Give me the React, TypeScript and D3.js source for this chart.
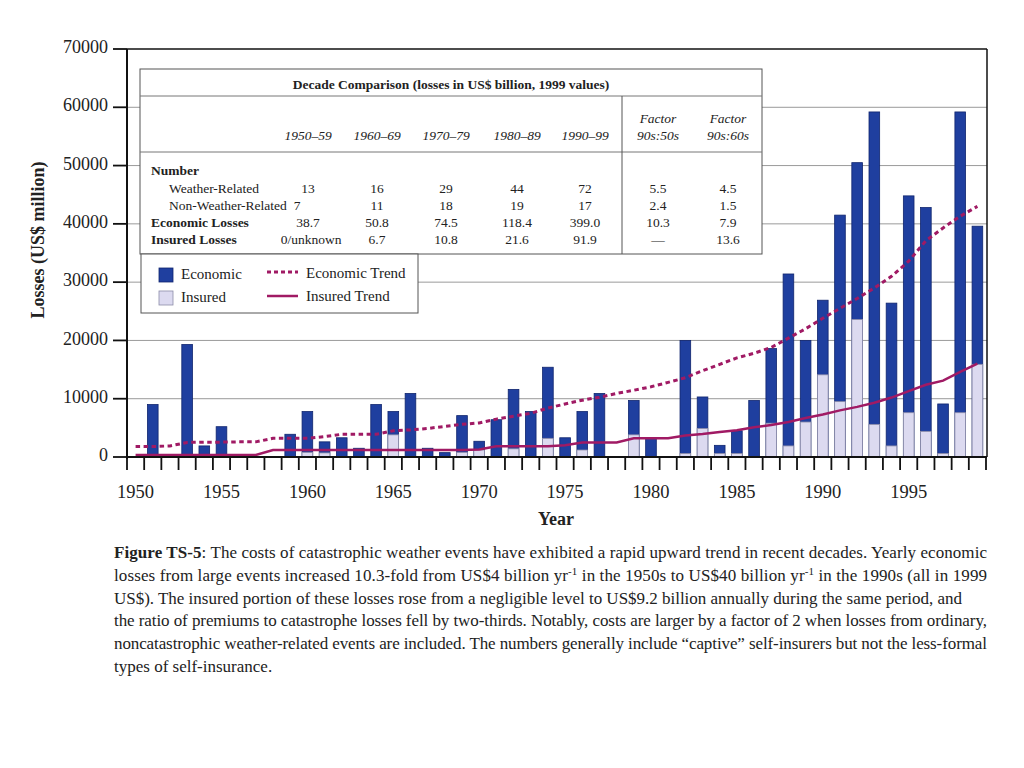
import React from 'react';
import * as d3 from 'd3';

// yearly catastrophe losses, US$ million (1999 values)
const years = [
  1950, 1951, 1952, 1953, 1954, 1955, 1956, 1957, 1958, 1959,
  1960, 1961, 1962, 1963, 1964, 1965, 1966, 1967, 1968, 1969,
  1970, 1971, 1972, 1973, 1974, 1975, 1976, 1977, 1978, 1979,
  1980, 1981, 1982, 1983, 1984, 1985, 1986, 1987, 1988, 1989,
  1990, 1991, 1992, 1993, 1994, 1995, 1996, 1997, 1998, 1999,
];
const economic = [
  0, 9000, 0, 19300, 1900, 5200, 0, 0, 0, 3900,
  7800, 2600, 3300, 1500, 9000, 7800, 10900, 1500, 750, 7100,
  2700, 6400, 11600, 7800, 15400, 3300, 7800, 10900, 0, 9700,
  3200, 0, 20000, 10300, 2000, 4500, 9700, 18600, 31400, 20000,
  26900, 41500, 50500, 59200, 26400, 44800, 42800, 9100, 59200, 39600,
];
const insured = [
  0, 0, 0, 0, 0, 0, 0, 0, 0, 0,
  800, 700, 0, 0, 0, 3800, 0, 0, 0, 800,
  1200, 0, 1400, 0, 3200, 0, 1200, 0, 0, 3800,
  0, 0, 600, 4900, 600, 600, 0, 5800, 1900, 6000,
  14100, 9500, 23600, 5600, 1900, 7600, 4400, 600, 7600, 15900,
];
const economicTrend = [
  1800, 1800, 1900, 2500, 2550, 2550, 2600, 2600, 3200, 3200,
  3200, 3500, 3900, 3900, 3900, 4500, 4650, 4900, 5250, 5600,
  5850, 6500, 7000, 7500, 8400, 9100, 9750, 10250, 10900, 11450,
  12050, 12800, 13600, 14800, 15900, 17000, 17800, 18800, 20400, 22000,
  23800, 25500, 27200, 29000, 31000, 33600, 37100, 39300, 41300, 43000,
];
const insuredTrend = [
  350, 350, 350, 350, 350, 350, 350, 350, 1200, 1200,
  1200, 1200, 1200, 1200, 1200, 1200, 1200, 1200, 1200, 1200,
  1300, 1850, 1850, 1850, 1850, 2000, 2500, 2500, 2500, 3200,
  3200, 3200, 3700, 3950, 4300, 4600, 5100, 5500, 6000, 6700,
  7300, 8000, 8600, 9300, 10200, 11300, 12400, 13100, 14600, 16000,
];
const yTicks = [0, 10000, 20000, 30000, 40000, 50000, 60000, 70000];
const yearLabels = [1950, 1955, 1960, 1965, 1970, 1975, 1980, 1985, 1990, 1995];

// decade comparison table
const tableTitle = 'Decade Comparison (losses in US$ billion, 1999 values)';
const decadeCols = ['1950–59', '1960–69', '1970–79', '1980–89', '1990–99'];
const factorCols = ['90s:50s', '90s:60s'];
const weatherRelated = ['13', '16', '29', '44', '72', '5.5', '4.5'];
const nonWeatherRelated = ['7', '11', '18', '19', '17', '2.4', '1.5'];
const economicLosses = ['38.7', '50.8', '74.5', '118.4', '399.0', '10.3', '7.9'];
const insuredLosses = ['0/unknown', '6.7', '10.8', '21.6', '91.9', '—', '13.6'];

const captionLines = [
  'The costs of catastrophic weather events have exhibited a rapid upward trend in recent decades. Yearly economic',
  'losses from large events increased 10.3-fold from US$4 billion yr|-1| in the 1950s to US$40 billion yr|-1| in the 1990s (all in 1999',
  'US$). The insured portion of these losses rose from a negligible level to US$9.2 billion annually during the same period, and',
  'the ratio of premiums to catastrophe losses fell by two-thirds. Notably, costs are larger by a factor of 2 when losses from ordinary,',
  'noncatastrophic weather-related events are included. The numbers generally include “captive” self-insurers but not the less-formal',
  'types of self-insurance.',
];

const serif = '"Liberation Serif", "Times New Roman", serif';
const blue = '#1f3f9f';
const lavender = '#dcdaf0';
const trendColor = '#a01a64';

const L = 127, R = 987, T = 49, B = 457;

const App: React.FC = () => {
  const x = d3.scaleBand<number>().domain(years).range([L, 986]).padding(0);
  const y = d3.scaleLinear().domain([0, 70000]).range([B, T]);
  const bw = x.bandwidth() * 0.62;
  const cx = (yr: number) => (x(yr) as number) + x.bandwidth() / 2;

  const line = d3.line<number>()
    .x((_, i) => cx(years[i]))
    .y(d => y(d));

  const tickXs = years.map(yr => x(yr) as number).concat([986]);
  const colX = [308, 377, 446, 517, 585, 658, 728];
  const rows = [
    { label: 'Weather-Related', vals: weatherRelated, bold: false, y: 188 },
    { label: 'Non-Weather-Related', vals: nonWeatherRelated, bold: false, y: 205 },
    { label: 'Economic Losses', vals: economicLosses, bold: true, y: 222 },
    { label: 'Insured Losses', vals: insuredLosses, bold: true, y: 239 },
  ];
  const capLens = [873, 873, 848, 873, 873, 0];

  const renderCaption = (s: string) => {
    const parts = s.split('|');
    return parts.map((p, k) =>
      k % 2 === 1 ? (
        <tspan key={k} dy={-6} fontSize={11}>{p}</tspan>
      ) : (
        <tspan key={k} dy={k > 0 ? 6 : 0}>{p}</tspan>
      )
    );
  };

  return (
    <svg width={1024} height={768} fontFamily={serif}
      style={{ position: 'absolute', left: 0, top: 0, background: '#fff' }}>
      {/* gridlines */}
      {yTicks.filter(t => t > 0 && t < 70000).map(t => (
        <line key={t} x1={L} x2={R} y1={y(t)} y2={y(t)} stroke="#9a9a9a" strokeWidth={1} />
      ))}

      {/* bars */}
      {years.map((yr, i) => economic[i] > 0 && (
        <g key={yr}>
          <rect x={cx(yr) - bw / 2} y={y(economic[i])} width={bw} height={B - y(economic[i])}
            fill={blue} stroke="#10256e" strokeWidth={0.8} />
          {insured[i] > 0 && (
            <rect x={cx(yr) - bw / 2} y={y(insured[i])} width={bw} height={B - y(insured[i])}
              fill={lavender} stroke="#8c8ca8" strokeWidth={0.8} />
          )}
        </g>
      ))}

      {/* trends */}
      <path d={line(economicTrend) || ''} fill="none" stroke={trendColor} strokeWidth={3}
        strokeDasharray="4.5 3.5" />
      <path d={line(insuredTrend) || ''} fill="none" stroke={trendColor} strokeWidth={2.5} />

      {/* frame and axes */}
      <line x1={L} x2={R} y1={T} y2={T} stroke="#111" strokeWidth={1.5} />
      <line x1={R} x2={R} y1={T} y2={B} stroke="#111" strokeWidth={1.5} />
      <line x1={L} x2={L} y1={T} y2={B + 2} stroke="#111" strokeWidth={2} />
      <line x1={L} x2={R} y1={B} y2={B} stroke="#111" strokeWidth={2} />
      {yTicks.map(t => (
        <g key={t}>
          <line x1={113} x2={L} y1={y(t)} y2={y(t)} stroke="#111" strokeWidth={1.8} />
          <text x={108} y={y(t)} textAnchor="end" dominantBaseline="middle" fontSize={18} fill="#222">{t}</text>
        </g>
      ))}
      {tickXs.map((tx, i) => (
        <line key={i} x1={tx} x2={tx} y1={B} y2={B + 13} stroke="#111" strokeWidth={1.8} />
      ))}
      {yearLabels.map(yr => (
        <text key={yr} x={cx(yr)} y={498} textAnchor="middle" fontSize={18.5} fill="#222">{yr}</text>
      ))}
      <text x={556} y={525} textAnchor="middle" fontSize={18} fontWeight="bold" fill="#222">Year</text>
      <text transform="translate(40,240) rotate(-90)" textAnchor="middle" dominantBaseline="middle"
        fontSize={18} fontWeight="bold" fill="#222">Losses (US$ million)</text>

      {/* decade comparison table */}
      <g fontSize={13.5} fill="#222">
        <rect x={140} y={69} width={622} height={185} fill="#fff" stroke="#555" strokeWidth={1} />
        <line x1={140} x2={762} y1={96} y2={96} stroke="#777" strokeWidth={1} />
        <line x1={140} x2={762} y1={152} y2={152} stroke="#777" strokeWidth={1} />
        <line x1={622} x2={622} y1={96} y2={254} stroke="#555" strokeWidth={1} />
        <text x={451} y={89} textAnchor="middle" fontWeight="bold">{tableTitle}</text>
        {decadeCols.map((c, i) => (
          <text key={c} x={colX[i]} y={140} textAnchor="middle" fontStyle="italic">{c}</text>
        ))}
        {factorCols.map((c, i) => (
          <g key={c}>
            <text x={colX[5 + i]} y={123} textAnchor="middle" fontStyle="italic">Factor</text>
            <text x={colX[5 + i]} y={140} textAnchor="middle" fontStyle="italic">{c}</text>
          </g>
        ))}
        <text x={151} y={175} fontWeight="bold">Number</text>
        {rows.map(r => (
          <g key={r.label}>
            <text x={r.bold ? 151 : 169} y={r.y + 5} fontWeight={r.bold ? 'bold' : 'normal'}>{r.label}</text>
            {r.vals.map((v, i) => {
              let vx = colX[i];
              if (i === 0 && v === '7') vx = 297;
              if (i === 0 && v === '0/unknown') vx = 311;
              return <text key={i} x={vx} y={r.y + 5} textAnchor="middle">{v}</text>;
            })}
          </g>
        ))}
      </g>

      {/* legend */}
      <g fontSize={15} fill="#222">
        <rect x={141} y={254} width={277} height={59} fill="#fff" stroke="#555" strokeWidth={1} />
        <rect x={159} y={268} width={14} height={14} fill={blue} stroke="#10256e" strokeWidth={0.8} />
        <text x={181} y={276} dominantBaseline="middle">Economic</text>
        <rect x={159} y={291} width={14} height={14} fill={lavender} stroke="#8c8ca8" strokeWidth={0.8} />
        <text x={181} y={299} dominantBaseline="middle">Insured</text>
        <line x1={267} x2={298} y1={272} y2={272} stroke={trendColor} strokeWidth={3} strokeDasharray="4 3" />
        <text x={306} y={275} dominantBaseline="middle">Economic Trend</text>
        <line x1={267} x2={298} y1={296} y2={296} stroke={trendColor} strokeWidth={2.5} />
        <text x={306} y={298} dominantBaseline="middle">Insured Trend</text>
      </g>

      {/* caption */}
      <g fontSize={17} fill="#222">
        {captionLines.map((s, i) => {
          const lenProps = capLens[i] > 0 ? { textLength: capLens[i], lengthAdjust: 'spacing' } : {};
          return (
            <text key={i} x={114} y={558 + i * 22.8} {...lenProps}>
              {i === 0 && <tspan fontWeight="bold">Figure TS-5</tspan>}
              {i === 0 && <tspan>: </tspan>}
              {renderCaption(s)}
            </text>
          );
        })}
      </g>
    </svg>
  );
};

export default App;
